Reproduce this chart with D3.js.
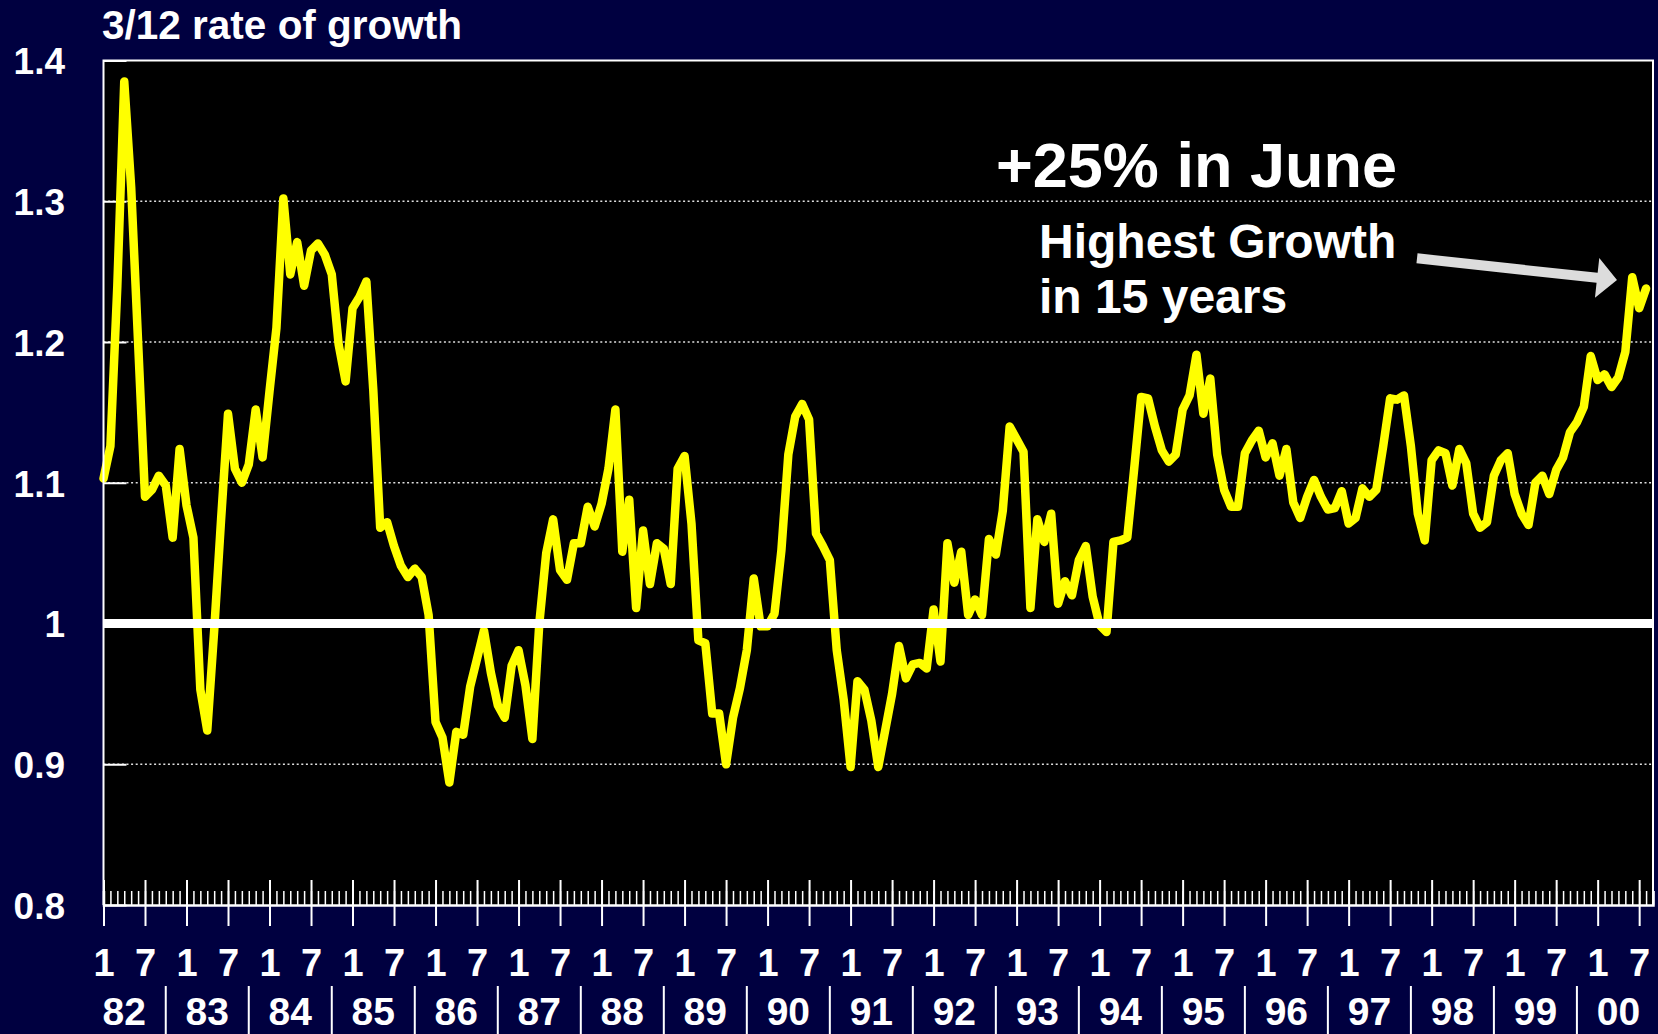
<!DOCTYPE html>
<html>
<head>
<meta charset="utf-8">
<title>3/12 rate of growth</title>
<script src="https://d3js.org/d3.v7.min.js"></script>
<style>
  body { margin: 0; background: #000040; }
  svg text { font-family: "Liberation Sans", Arial, Helvetica, sans-serif; font-weight: bold; fill: #fff; }
</style>
</head>
<body>
<div id="vis"></div>
<script>
// 3/12 rate of growth, one value per month starting Jan 1982
var growth = [
  1.103, 1.126, 1.24, 1.385, 1.31, 1.2, 1.09, 1.095, 1.105, 1.098, 1.061, 1.124,   // 82
  1.084, 1.061, 0.953, 0.924, 0.995, 1.074, 1.149, 1.11, 1.10, 1.113, 1.152, 1.118, // 83
  1.165, 1.21, 1.302, 1.248, 1.271, 1.24, 1.265, 1.27, 1.262, 1.248, 1.198, 1.172,  // 84
  1.224, 1.232, 1.243, 1.166, 1.068, 1.072, 1.055, 1.041, 1.033, 1.039, 1.033, 1.006, // 85
  0.93, 0.919, 0.887, 0.923, 0.921, 0.955, 0.975, 0.995, 0.965, 0.942, 0.933, 0.97,  // 86
  0.981, 0.956, 0.918, 1.0, 1.05, 1.074, 1.038, 1.031, 1.057, 1.057, 1.083, 1.069,   // 87
  1.085, 1.11, 1.152, 1.051, 1.088, 1.011, 1.066, 1.028, 1.057, 1.053, 1.028, 1.11,  // 88
  1.119, 1.071, 0.988, 0.986, 0.936, 0.936, 0.9, 0.933, 0.954, 0.981, 1.032, 0.998,  // 89
  0.998, 1.007, 1.052, 1.12, 1.147, 1.156, 1.145, 1.064, 1.055, 1.045, 0.981, 0.946, // 90
  0.898, 0.959, 0.953, 0.931, 0.898, 0.924, 0.95, 0.984, 0.961, 0.971, 0.972, 0.968, // 91
  1.01, 0.973, 1.057, 1.029, 1.051, 1.006, 1.017, 1.006, 1.06, 1.049, 1.08, 1.14,    // 92
  1.131, 1.122, 1.011, 1.074, 1.058, 1.078, 1.014, 1.03, 1.02, 1.045, 1.055, 1.019,  // 93
  0.999, 0.994, 1.058, 1.059, 1.061, 1.11, 1.161, 1.16, 1.14, 1.123, 1.115, 1.12,    // 94
  1.152, 1.162, 1.191, 1.149, 1.174, 1.12, 1.095, 1.083, 1.083, 1.121, 1.13, 1.137,  // 95
  1.118, 1.128, 1.105, 1.124, 1.086, 1.075, 1.09, 1.102, 1.09, 1.081, 1.082, 1.094,  // 96
  1.071, 1.075, 1.096, 1.09, 1.095, 1.126, 1.16, 1.159, 1.162, 1.126, 1.078, 1.059,  // 97
  1.116, 1.123, 1.121, 1.098, 1.124, 1.114, 1.078, 1.068, 1.072, 1.105, 1.116, 1.121, // 98
  1.092, 1.078, 1.07, 1.1, 1.105, 1.092, 1.109, 1.118, 1.136, 1.143, 1.154, 1.19,    // 99
  1.173, 1.177, 1.168, 1.175, 1.193, 1.246, 1.224, 1.238                              // 00
];
var years = ["82","83","84","85","86","87","88","89","90","91","92","93","94","95","96","97","98","99","00"];
var monthLabels = ["1", "7"];
var yTicks = [0.8, 0.9, 1, 1.1, 1.2, 1.3, 1.4];
var yTickLabels = ["0.8", "0.9", "1", "1.1", "1.2", "1.3", "1.4"];
var gridValues = [0.9, 1.1, 1.2, 1.3];

var W = 1658, H = 1034;
var plotL = 103.5, plotR = 1653, plotT = 60.5, plotB = 905;
var nMonths = 224;

var x = d3.scaleLinear().domain([0, nMonths]).range([plotL, plotR]);
var y = d3.scaleLinear().domain([0.8, 1.4]).range([plotB, plotT]);

var svg = d3.select("#vis").append("svg")
  .attr("width", W)
  .attr("height", H)
  .style("display", "block");

svg.append("rect").attr("width", W).attr("height", H).attr("fill", "#000040");

// plot background
svg.append("rect")
  .attr("x", plotL).attr("y", plotT)
  .attr("width", plotR - plotL).attr("height", plotB - plotT)
  .attr("fill", "#000");

// dotted gridlines
svg.selectAll("line.grid").data(gridValues).enter().append("line")
  .attr("class", "grid")
  .attr("x1", plotL).attr("x2", plotR)
  .attr("y1", function(d) { return y(d); })
  .attr("y2", function(d) { return y(d); })
  .attr("stroke", "#e0e0e0")
  .attr("stroke-width", 1.6)
  .attr("stroke-dasharray", "2,2.6");

// y axis, ticks inside the plot
var yAxis = svg.append("g")
  .attr("transform", "translate(" + plotL + ",0)")
  .call(d3.axisLeft(y).tickValues(yTicks).tickSize(-23).tickPadding(38.5)
    .tickFormat(function(d, i) { return yTickLabels[i]; }));
yAxis.select(".domain").remove();
yAxis.attr("font-size", null).attr("font-family", null);
yAxis.selectAll("line").attr("stroke", "#fff").attr("stroke-width", 2);
yAxis.selectAll("text").style("font-size", "37px").attr("dy", "0.36em");

// the series
var line = d3.line()
  .x(function(d, i) { return x(i); })
  .y(function(d) { return y(d); });

svg.append("path")
  .datum(growth)
  .attr("d", line)
  .attr("fill", "none")
  .attr("stroke", "#ffff00")
  .attr("stroke-width", 8.5)
  .attr("stroke-linejoin", "round")
  .attr("stroke-linecap", "round");

// reference line at 1
svg.append("line")
  .attr("x1", plotL).attr("x2", plotR)
  .attr("y1", y(1)).attr("y2", y(1))
  .attr("stroke", "#fff")
  .attr("stroke-width", 9);

// border (top, left, right)
svg.append("path")
  .attr("d", "M" + plotL + "," + plotB + "V" + plotT + "H" + plotR + "V" + plotB)
  .attr("fill", "none")
  .attr("stroke", "#fff")
  .attr("stroke-width", 2);

// x axis: monthly minor ticks, half-year major ticks
var minor = svg.append("g")
  .attr("transform", "translate(0," + plotB + ")")
  .call(d3.axisBottom(x).tickValues(d3.range(0, nMonths + 1)).tickSize(-14).tickFormat(""));
minor.selectAll("line").attr("stroke", "#fff").attr("stroke-width", 1.5);
minor.select(".domain").attr("stroke", "#fff").attr("stroke-width", 2.5);

var majorUp = svg.append("g")
  .attr("transform", "translate(0," + plotB + ")")
  .call(d3.axisBottom(x).tickValues(d3.range(0, nMonths, 6)).tickSize(-25).tickFormat(""));
majorUp.select(".domain").remove();
majorUp.selectAll("line").attr("stroke", "#fff").attr("stroke-width", 2);

var major = svg.append("g")
  .attr("transform", "translate(0," + plotB + ")")
  .call(d3.axisBottom(x).tickValues(d3.range(0, nMonths, 6)).tickSize(21)
    .tickFormat(function(d) { return monthLabels[(d / 6) % 2]; }));
major.select(".domain").remove();
major.attr("font-size", null).attr("font-family", null);
major.selectAll("line").attr("stroke", "#fff").attr("stroke-width", 2);
major.selectAll("text").style("font-size", "38px").attr("y", 71).attr("dy", 0);

// year labels and separators
svg.selectAll("text.year").data(years).enter().append("text")
  .attr("class", "year")
  .attr("x", function(d, i) { return x(i * 12 + 3); })
  .attr("y", 1025)
  .attr("text-anchor", "middle")
  .style("font-size", "39px")
  .text(function(d) { return d; });

svg.selectAll("line.sep").data(years.slice(1)).enter().append("line")
  .attr("class", "sep")
  .attr("x1", function(d, i) { return x((i + 1) * 12 - 3); })
  .attr("x2", function(d, i) { return x((i + 1) * 12 - 3); })
  .attr("y1", 986).attr("y2", H)
  .attr("stroke", "#fff")
  .attr("stroke-width", 2);

// title
svg.append("text")
  .attr("x", 102).attr("y", 39)
  .style("font-size", "40.5px")
  .text("3/12 rate of growth");

// annotation
svg.append("text")
  .attr("x", 996).attr("y", 187)
  .style("font-size", "63px")
  .text("+25% in June");
svg.append("text")
  .attr("x", 1039).attr("y", 258)
  .style("font-size", "48px")
  .text("Highest Growth");
svg.append("text")
  .attr("x", 1039).attr("y", 313)
  .style("font-size", "48px")
  .text("in 15 years");

// arrow pointing at the June peak
var S = [1417, 258.3], T = [1617, 280];
var len = Math.hypot(T[0] - S[0], T[1] - S[1]);
var d = [(T[0] - S[0]) / len, (T[1] - S[1]) / len];
var n = [-d[1], d[0]];
var headLen = 20, headW = 20, shaftW = 5;
var B = [T[0] - headLen * d[0], T[1] - headLen * d[1]];
function pt(p, k) { return [p[0] + k * n[0], p[1] + k * n[1]]; }
svg.append("polygon")
  .attr("points", [pt(S, -shaftW), pt(B, -shaftW), pt(B, -headW), T, pt(B, headW), pt(B, shaftW), pt(S, shaftW)]
    .map(function(p) { return p.join(","); }).join(" "))
  .attr("fill", "#dcdcdc");
</script>
</body>
</html>
